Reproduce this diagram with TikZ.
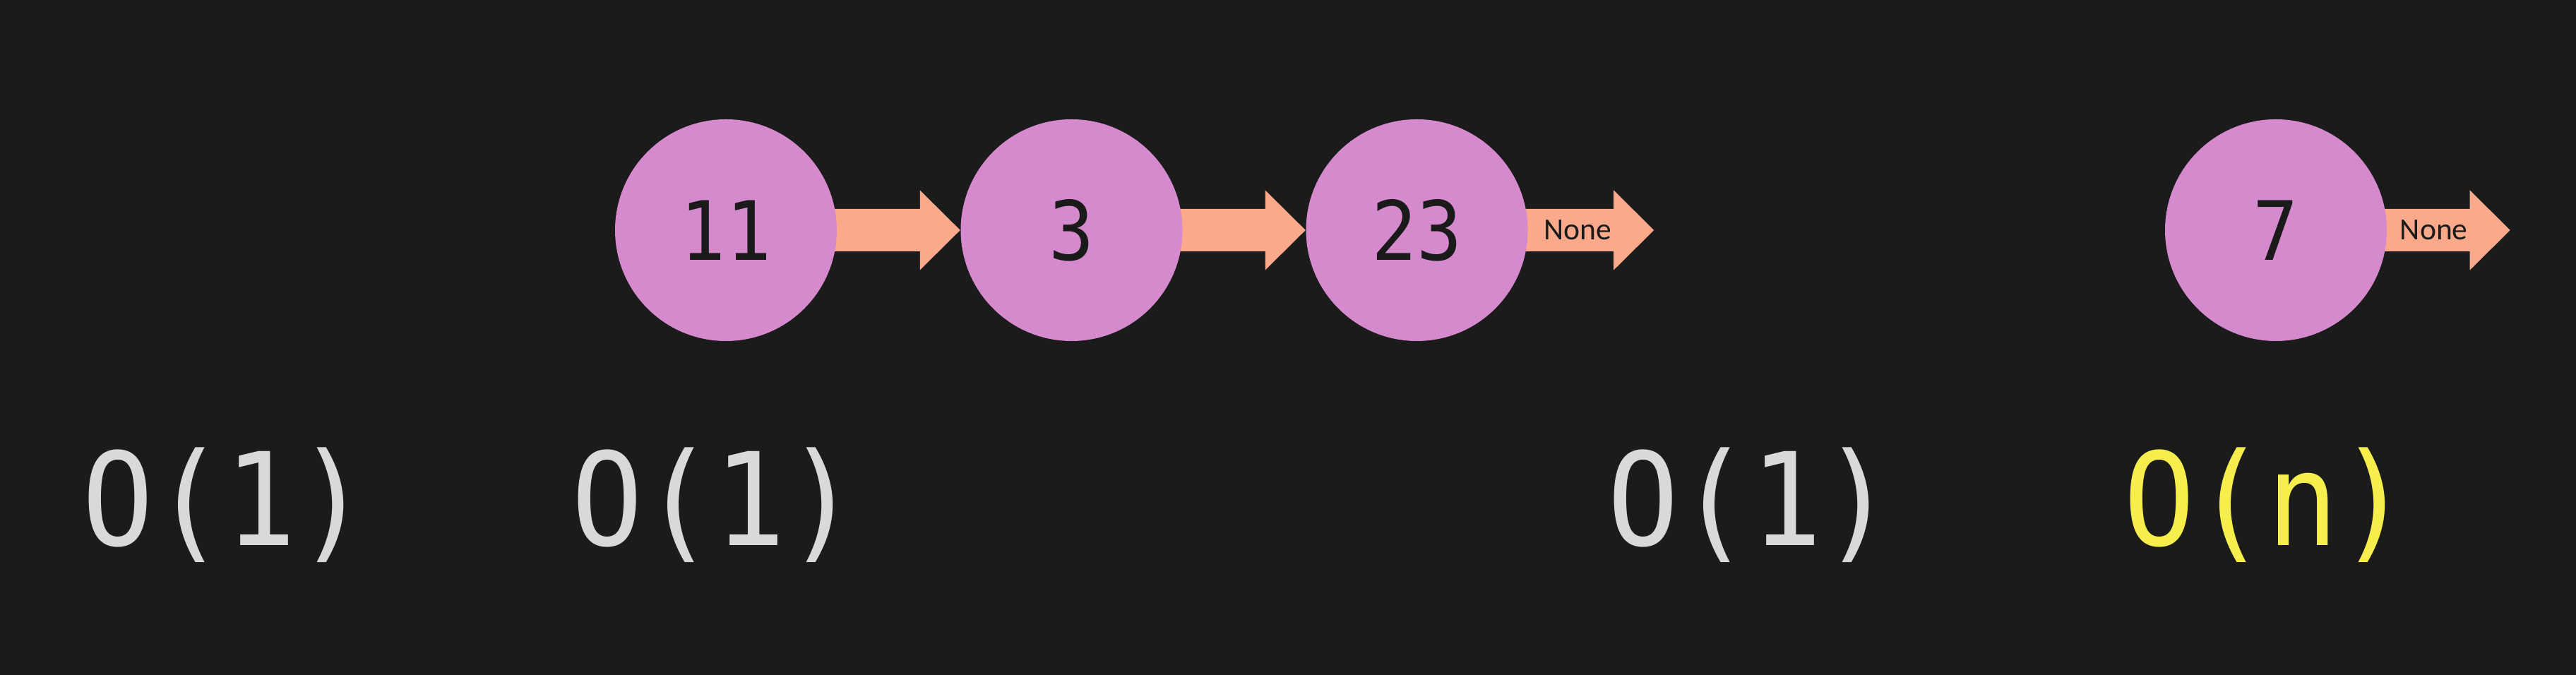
\documentclass[tikz,border=0pt]{standalone}
\usepackage{fontspec}
\usetikzlibrary{calc}
\newfontfamily\monofont[FakeStretch=0.92]{DejaVu Sans Mono}
\newfontfamily\nonefont{Carlito}
\definecolor{bgcol}{HTML}{1B1B1B}
\definecolor{pinkcol}{HTML}{D68ACE}
\definecolor{salmoncol}{HTML}{FAAA8A}
\definecolor{graycol}{HTML}{D9D9D9}
\definecolor{yellowcol}{HTML}{F6EE4C}
\definecolor{inkcol}{HTML}{1A1A1A}
\pgfdeclarelayer{bottomlayer}
\pgfdeclarelayer{behind}
\pgfsetlayers{bottomlayer,behind,main}
\tikzset{
  listnode/.style={circle, fill=pinkcol, draw=none, minimum size=3.14cm, inner sep=0pt,
    text=inkcol, font=\monofont\fontsize{33}{38}\selectfont},
  costlabel/.style={anchor=base, inner sep=0pt, font=\monofont\fontsize{52}{60}\selectfont},
  nonetext/.style={inner sep=0pt, text=inkcol, font=\nonefont\fontsize{12.4}{14}\selectfont},
  arrowbody/.style={fill=salmoncol, draw=none}
}
% fat arrow from the east side of node #1 to point #2
\newcommand{\fatarrow}[2]{%
  \fill[arrowbody] ($(#1.east)+(-0.10,0.30)$) -- ($(#2)+(-0.57,0.30)$)
    -- ($(#2)+(-0.57,0.565)$) -- (#2) -- ($(#2)+(-0.57,-0.565)$)
    -- ($(#2)+(-0.57,-0.30)$) -- ($(#1.east)+(-0.10,-0.30)$) -- cycle;}
\begin{document}
\begin{tikzpicture}
\begin{pgfonlayer}{bottomlayer}
\fill[bgcol] (0,0) rectangle (36.48,9.56);
\end{pgfonlayer}
\useasboundingbox (0,0) rectangle (36.48,9.56);

\node[listnode] (n11) at (10.28,6.30) {11};
\node[listnode] (n3)  at (15.175,6.30) {3};
\node[listnode] (n23) at (20.065,6.30) {23};
\node[listnode] (n7)  at (32.23,6.30) {7};

\coordinate (tip23) at ($(n23.east)+(1.78,0)$);
\coordinate (tip7)  at ($(n7.east)+(1.74,0)$);

\begin{pgfonlayer}{behind}
\fatarrow{n11}{n3.west}
\fatarrow{n3}{n23.west}
\fatarrow{n23}{tip23}
\fatarrow{n7}{tip7}
\end{pgfonlayer}

\node[nonetext] (none23) at ($(n23.east)+(0.70,0)$) {None};
\node[nonetext] (none7)  at ($(n7.east)+(0.66,0)$) {None};

\node[costlabel, text=graycol]   (c1) at (3.19,1.83) {O(1)};
\node[costlabel, text=graycol]   (c2) at (10.12,1.83) {O(1)};
\node[costlabel, text=graycol]   (c3) at (24.79,1.83) {O(1)};
\node[costlabel, text=yellowcol] (c4) at (32.10,1.83) {O(n)};
\end{tikzpicture}
\end{document}
